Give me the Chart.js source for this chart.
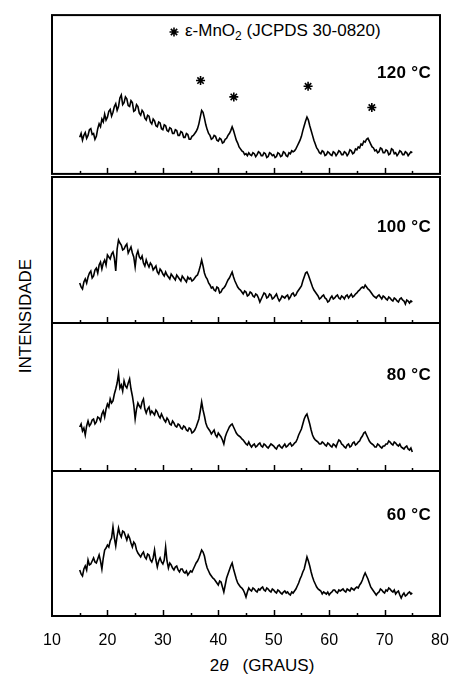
<!DOCTYPE html>
<html>
<head>
<meta charset="utf-8">
<script src="https://cdn.jsdelivr.net/npm/chart.js@4.4.0/dist/chart.umd.min.js"></script>
<style>
  body { margin: 0; background: #fff; width: 452px; height: 679px; position: relative; overflow: hidden;
         font-family: "Liberation Sans", Arial, sans-serif; color: #000; }
  canvas { position: absolute; left: 0; }
  .temp { position: absolute; right: 21px; font-weight: bold; font-size: 17px; line-height: 17px; white-space: nowrap; letter-spacing: 0.3px; }
  .legend { position: absolute; left: 185px; top: 22px; font-size: 17px; line-height: 18px; white-space: nowrap; }
  .legend sub { font-size: 12px; vertical-align: -4px; line-height: 0; }
  .ylab { position: absolute; left: 26px; top: 316px; transform: translate(-50%, -50%) rotate(-90deg);
          font-size: 17px; white-space: nowrap; }
  .xlab { position: absolute; left: 262px; top: 666px; transform: translate(-50%, -50%);
          font-size: 17px; white-space: nowrap; }
</style>
</head>
<body>
<div class="ylab">INTENSIDADE</div>
<div class="xlab">2<i>θ</i>&nbsp;&nbsp;&nbsp;(GRAUS)</div>
<div class="legend">ε-MnO<sub>2</sub> (JCPDS 30-0820)</div>

<script>
// ================= DATA =================
const twoTheta = [
  15,15.25,15.5,15.75,16,16.25,16.5,16.75,17,17.25,17.5,17.75,18,18.25,18.5,18.75,19,19.25,19.5,19.75,
  20,20.25,20.5,20.75,21,21.25,21.5,21.75,22,22.25,22.5,22.75,23,23.25,23.5,23.75,24,24.25,24.5,24.75,
  25,25.25,25.5,25.75,26,26.25,26.5,26.75,27,27.25,27.5,27.75,28,28.25,28.5,28.75,29,29.25,29.5,29.75,
  30,30.25,30.5,30.75,31,31.25,31.5,31.75,32,32.25,32.5,32.75,33,33.25,33.5,33.75,34,34.25,34.5,34.75,
  35,35.25,35.5,35.75,36,36.25,36.5,36.75,37,37.25,37.5,37.75,38,38.25,38.5,38.75,39,39.25,39.5,39.75,
  40,40.25,40.5,40.75,41,41.25,41.5,41.75,42,42.25,42.5,42.75,43,43.25,43.5,43.75,44,44.25,44.5,44.75,
  45,45.25,45.5,45.75,46,46.25,46.5,46.75,47,47.25,47.5,47.75,48,48.25,48.5,48.75,49,49.25,49.5,49.75,
  50,50.25,50.5,50.75,51,51.25,51.5,51.75,52,52.25,52.5,52.75,53,53.25,53.5,53.75,54,54.25,54.5,54.75,
  55,55.25,55.5,55.75,56,56.25,56.5,56.75,57,57.25,57.5,57.75,58,58.25,58.5,58.75,59,59.25,59.5,59.75,
  60,60.25,60.5,60.75,61,61.25,61.5,61.75,62,62.25,62.5,62.75,63,63.25,63.5,63.75,64,64.25,64.5,64.75,
  65,65.25,65.5,65.75,66,66.25,66.5,66.75,67,67.25,67.5,67.75,68,68.25,68.5,68.75,69,69.25,69.5,69.75,
  70,70.25,70.5,70.75,71,71.25,71.5,71.75,72,72.25,72.5,72.75,73,73.25,73.5,73.75,74,74.25,74.5,74.75,
  75];

const int120 = [
  38,42,35,40,43,37,40,46,47,41,42,36,39,47,52,49,57,54,62,56,
  59,65,67,60,64,70,73,66,70,79,82,72,74,80,78,71,70,76,74,65,
  66,72,70,63,61,66,64,58,56,61,60,54,52,57,55,50,49,54,53,47,
  46,51,50,45,44,48,47,42,42,46,45,40,40,44,43,38,38,42,41,36,
  36,39,40,42,44,47,52,59,66,64,58,51,46,42,40,36,37,40,39,35,
  34,37,36,32,33,36,37,40,42,45,49,45,40,35,32,28,26,24,23,20,
  21,19,22,20,19,22,21,18,20,23,22,19,19,22,21,17,18,22,21,19,
  20,17,18,22,21,18,19,23,22,19,18,22,21,24,23,24,26,29,32,35,
  39,45,50,55,59,56,50,45,40,35,31,27,25,22,21,24,23,19,20,23,
  22,20,19,23,22,19,21,24,23,20,20,23,22,19,21,25,24,21,22,26,
  25,28,27,31,30,34,33,36,37,34,31,28,27,24,25,22,23,27,26,22,
  22,25,24,20,21,26,25,21,22,19,21,24,23,20,20,23,22,19,21,23,
  22];

const int100 = [
  40,36,34,41,44,40,46,50,52,45,47,53,55,50,58,61,54,60,63,58,
  68,66,64,69,71,65,52,74,83,80,78,73,74,77,79,70,73,76,70,66,
  56,68,72,66,64,67,60,57,63,59,56,60,58,53,55,57,51,49,54,52,
  49,47,51,48,46,44,49,47,45,43,48,46,44,42,47,45,43,41,46,44,
  45,42,43,45,47,48,52,57,63,57,50,46,44,40,38,35,36,33,32,36,
  35,30,31,34,35,37,40,43,45,48,51,46,42,39,36,34,33,31,29,32,
  31,27,28,31,30,27,26,29,28,25,21,24,27,30,29,25,26,29,28,24,
  25,27,29,25,22,24,27,26,25,27,28,24,26,29,30,27,28,31,33,35,
  37,42,46,50,51,48,44,40,36,33,31,29,27,24,25,27,28,25,24,21,
  22,25,27,24,25,27,28,25,24,27,26,24,27,28,25,27,29,26,27,29,
  30,32,33,35,36,35,38,36,34,33,31,29,27,26,25,27,28,26,24,27,
  26,24,23,26,25,23,22,25,24,22,21,24,25,23,22,19,23,22,20,22,
  21];

const int80 = [
  44,47,40,43,36,45,50,45,47,51,52,47,49,54,53,50,57,60,54,62,
  67,64,72,68,70,77,82,88,97,83,86,80,90,85,83,88,92,82,75,66,
  52,62,68,65,63,69,72,62,58,62,64,57,60,58,56,61,59,55,53,57,
  54,51,49,53,51,47,46,50,48,45,44,47,46,43,42,45,44,41,40,43,
  42,38,39,41,44,48,52,60,69,61,55,48,44,42,40,37,39,41,36,34,
  38,36,34,31,27,34,38,41,44,46,47,44,41,38,36,35,34,32,31,29,
  27,26,29,26,24,26,27,24,25,27,28,25,24,27,26,24,23,25,27,26,
  25,23,22,25,26,24,23,25,27,24,25,27,28,25,26,28,29,32,36,39,
  42,47,52,55,57,52,47,41,36,33,31,30,29,27,27,29,28,26,25,28,
  27,25,24,27,26,24,28,31,30,27,26,24,23,26,27,24,25,28,29,26,
  27,29,30,33,35,38,39,36,33,30,28,27,26,24,24,27,26,24,23,25,
  25,27,27,30,29,27,26,29,28,26,25,27,24,23,22,24,25,22,21,23,
  19];

const int60 = [
  46,42,40,47,50,46,56,51,52,55,58,54,53,57,61,55,47,58,66,68,
  71,69,75,78,89,78,70,80,88,82,79,85,84,80,76,81,78,73,69,74,
  72,66,63,61,59,62,64,59,57,62,61,56,54,58,66,56,49,55,58,54,
  52,56,69,55,48,53,51,48,46,49,50,46,44,47,47,44,43,45,41,43,
  45,44,47,50,53,55,58,62,66,64,60,53,48,45,42,40,38,37,35,33,
  31,35,34,29,24,31,38,42,46,50,53,47,42,37,33,31,29,28,26,23,
  19,24,28,26,25,28,27,25,24,27,26,28,29,26,25,28,27,25,24,27,
  26,24,23,26,25,23,22,24,25,23,24,22,21,24,23,25,27,30,33,37,
  40,44,47,53,59,55,50,44,39,35,32,29,27,26,25,22,24,23,22,24,
  21,23,24,26,26,24,23,26,25,26,27,25,24,27,26,25,28,27,26,28,
  29,28,31,33,36,40,43,40,37,33,29,27,25,23,21,23,24,27,26,24,
  23,26,25,28,27,25,24,26,22,24,25,21,18,21,23,20,21,23,24,22,
  23];

const temperatures = ["120 °C", "100 °C", "80 °C", "60 °C"];

// e-MnO2 reflections marked in the top panel
const starAngles = [36.8, 42.8, 56.2, 67.7];
const starHeights = [97, 80, 91, 69];

const xTicks = [10, 20, 30, 40, 50, 60, 70, 80];

// ================= LAYOUT =================
const panels = [
  { top: 12,  height: 165, series: int120, labelY: 73 },
  { top: 177, height: 146, series: int100, labelY: 227 },
  { top: 323, height: 148, series: int80,  labelY: 375 },
  { top: 471, height: 145, series: int60,  labelY: 515 },
];
const PAD = 3;
const AXIS_H = 40;

// frame + inward ticks on the bottom edge
const framePlugin = {
  id: "frame",
  afterDatasetsDraw(chart) {
    const { ctx, chartArea: a, scales: { x } } = chart;
    ctx.save();
    ctx.strokeStyle = "#000";
    ctx.lineWidth = 2;
    ctx.strokeRect(a.left, a.top, a.right - a.left, a.bottom - a.top);
    ctx.lineWidth = 1.5;
    for (let v = 15; v <= 75; v += 5) {
      const px = Math.round(x.getPixelForValue(v)) + 0.5;
      const len = v % 10 === 0 ? 6 : 3;
      ctx.beginPath();
      ctx.moveTo(px, a.bottom);
      ctx.lineTo(px, a.bottom - len);
      ctx.stroke();
    }
    ctx.restore();
  },
};

// legend marker drawn with the same point style as the peak marks
const legendMark = {
  id: "legendMark",
  afterDraw(chart) {
    const ctx = chart.ctx;
    ctx.save();
    ctx.strokeStyle = "#000";
    ctx.fillStyle = "#000";
    ctx.lineWidth = 1.6;
    Chart.helpers.drawPoint(ctx, { pointStyle: "star", radius: 4.5, borderWidth: 1.6 }, 174, 32 - (panels[0].top - PAD));
    ctx.restore();
  },
};

panels.forEach((p, i) => {
  const last = i === panels.length - 1;
  const canvas = document.createElement("canvas");
  canvas.width = 452;
  canvas.height = p.height + PAD + (last ? AXIS_H : PAD);
  canvas.style.top = (p.top - PAD) + "px";
  document.body.appendChild(canvas);

  const lbl = document.createElement("div");
  lbl.className = "temp";
  lbl.textContent = temperatures[i];
  lbl.style.top = (p.labelY - 9) + "px";
  document.body.appendChild(lbl);

  const datasets = [{
    data: twoTheta.map((t, k) => ({ x: t, y: p.series[k] })),
    borderColor: "#000",
    borderWidth: 1.6,
    pointRadius: 0,
    tension: 0,
  }];
  if (i === 0) {
    datasets.push({
      data: starAngles.map((t, k) => ({ x: t, y: starHeights[k] })),
      showLine: false,
      pointStyle: "star",
      pointRadius: 4.5,
      borderWidth: 1.6,
      borderColor: "#000",
      backgroundColor: "#000",
    });
  }

  const xScale = {
    type: "linear",
    min: 10,
    max: 80,
    display: last,
    grid: { display: false, drawTicks: false },
    border: { display: false },
    ticks: { color: "#000", padding: 15, font: { size: 16, family: "'Liberation Sans', Arial, sans-serif" } },
    afterBuildTicks: (s) => { s.ticks = xTicks.map((v) => ({ value: v })); },
  };
  if (last) {
    xScale.afterFit = (s) => {
      s.height = AXIS_H;
      s.paddingLeft = 0;
      s.paddingRight = 0;
    };
  }

  new Chart(canvas, {
    type: "line",
    data: { datasets },
    options: {
      responsive: false,
      animation: false,
      events: [],
      layout: { padding: { left: 52, right: 12, top: PAD, bottom: last ? 0 : PAD } },
      plugins: { legend: { display: false }, tooltip: { enabled: false } },
      scales: {
        x: xScale,
        y: { min: 0, max: p.height, display: false },
      },
    },
    plugins: i === 0 ? [framePlugin, legendMark] : [framePlugin],
  });
});
</script>
</body>
</html>
